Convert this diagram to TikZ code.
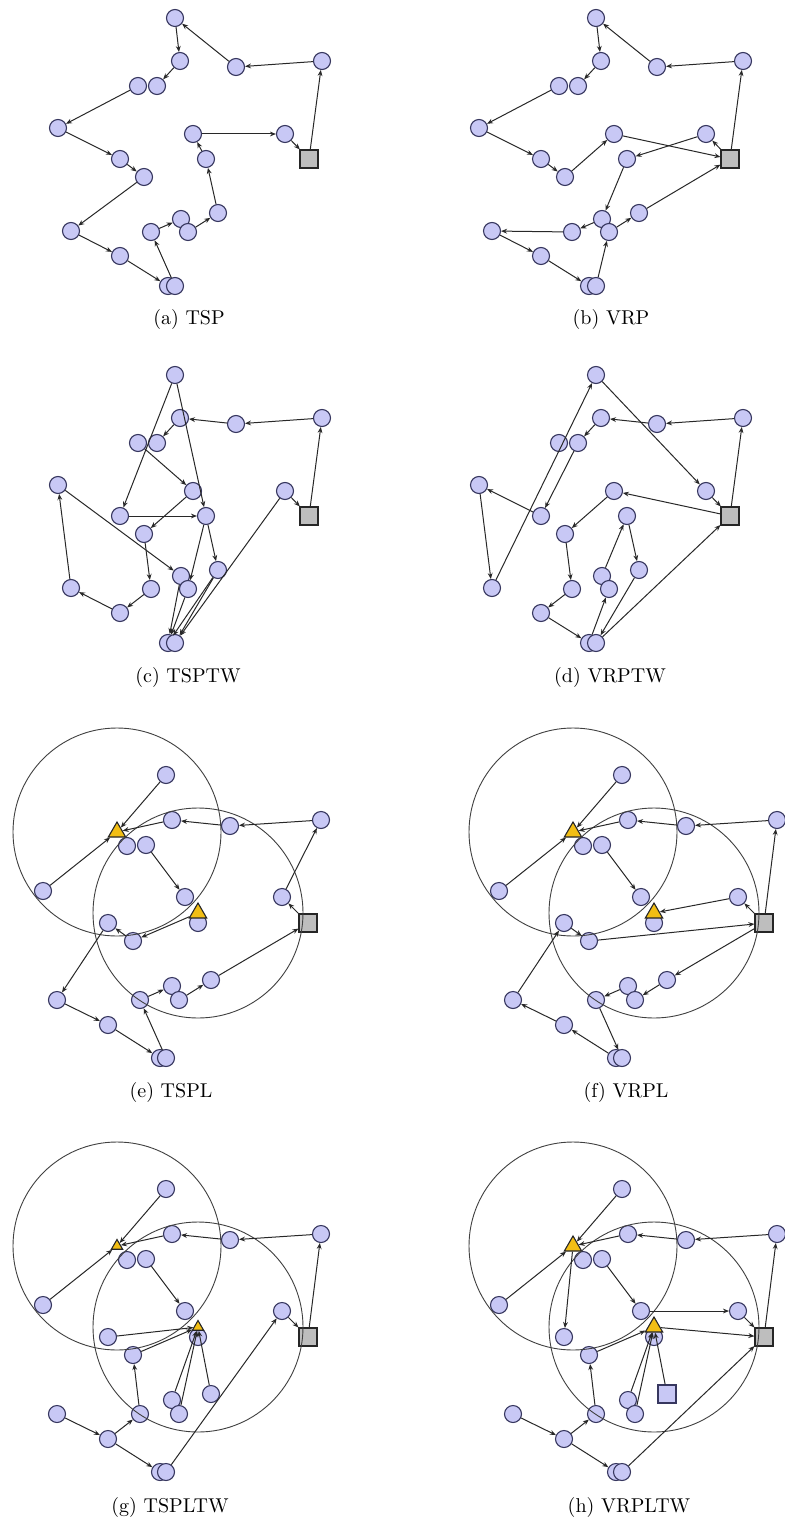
\documentclass[tikz,border=0pt]{standalone}
\usetikzlibrary{shapes.geometric,arrows.meta}
\definecolor{custfill}{RGB}{200,200,245}
\definecolor{custdraw}{RGB}{55,55,95}
\definecolor{depotfill}{RGB}{190,190,190}
\definecolor{trifill}{RGB}{242,190,20}
\definecolor{edgecol}{RGB}{40,40,40}
\tikzset{
  cust/.style={circle,minimum size=8.5pt,inner sep=0pt,fill=custfill,draw=custdraw,line width=0.55pt},
  custsq/.style={rectangle,minimum size=9pt,inner sep=0pt,fill=custfill,draw=custdraw,line width=0.55pt},
  depotbox/.style={rectangle,minimum size=9pt,inner sep=0pt,fill=depotfill,draw=black!85,line width=0.55pt},
  facility/.style={regular polygon,regular polygon sides=3,minimum size=#1,inner sep=0pt,fill=trifill,draw=black!85,line width=0.55pt},
  facility/.default=10pt,
  route/.style={draw=edgecol,line width=0.5pt,-{Stealth[length=3pt,width=2.4pt]}},
  reach/.style={draw=black!75,line width=0.45pt},
  subcap/.style={font=\fontsize{10}{12}\selectfont,inner sep=0pt},
}
% customers of the first point set (panels a-d)
\newcommand\placeA[3]{%
  \foreach \n/\xx/\yy in {1/175/18,2/180/61,3/236/67,4/322/61,5/138/86,6/157/86,7/58/128,8/193/134,9/285/134,10/206/159,11/120/159,12/144/177,13/218/213,14/181/219,15/188/232,16/151/232,17/71/231,18/120/256,19/168/286,20/175/286}
    {\node[cust] (#1\n) at ({\xx+#2},{\yy+#3}) {};}
  \node[depotbox] (#1D) at ({309+#2},{159+#3}) {};
}
% customers, lockers and ranges of the second point set (panels e-h)
\newcommand\placeB[5]{%
  \foreach \n/\xx/\yy in {1/166/775,2/172/820,3/230/826,4/321/820,5/127/846,6/146/845,7/43/891,8/185/897,9/198/923,10/282/897,11/108/923,12/133/941,14/172/986,15/179/1000,16/140/1000,17/57/1000,18/108/1025,19/160/1058,20/166/1058}
    {\node[cust] (#1\n) at ({\xx+#2},{\yy+#3}) {};}
  \node[#4] (#113) at ({211+#2},{980+#3}) {};
  \node[depotbox] (#1D) at ({308+#2},{923+#3}) {};
  \node[facility=#5] (#1T1) at ({117+#2},{832+#3}) {};
  \node[facility=#5] (#1T2) at ({198+#2},{913+#3}) {};
  \draw[reach] (#1T1.center) circle[radius=52pt];
  \draw[reach] (#1T2.center) circle[radius=52.5pt];
}
\newcommand\routes[2]{\foreach \s/\t in {#2} {\draw[route] (#1\s) -- (#1\t);}}
\begin{document}
\begin{tikzpicture}[x=0.5pt,y=-0.5pt]
\fill[white] (0,0) rectangle (785,1524);
\useasboundingbox (0,0) rectangle (785,1524);

% (a) TSP
\placeA{a}{0}{0}
\routes{a}{D/4,4/3,3/1,1/2,2/6,5/7,7/11,11/12,12/17,17/18,18/19,20/16,16/14,15/13,13/10,10/8,8/9,9/D}
% (b) VRP
\placeA{b}{421}{0}
\routes{b}{D/4,4/3,3/1,1/2,2/6,5/7,7/11,11/12,12/8,8/D,D/9,9/10,10/14,14/16,16/17,17/18,18/19,20/15,15/13,13/D}
% (c) TSPTW
\placeA{c}{0}{357}
\routes{c}{D/4,4/3,3/2,2/6,5/8,8/12,12/16,16/18,18/17,17/7,7/14,14/19,10/15,15/19,10/13,13/19,13/20,1/10,1/11,11/10,9/20,9/D}
% (d) VRPTW
\placeA{d}{421}{357}
\routes{d}{D/4,4/3,3/2,2/6,6/11,11/7,7/17,17/1,1/9,9/D,D/8,8/12,12/16,16/18,18/19,19/15,14/10,10/13,13/20,20/D}
% (e) TSPL
\placeB{e}{0}{0}{cust}{10pt}
\routes{e}{1/T1,7/T1,2/T1,3/2,4/3,10/4,D/10,6/8,T2/12,12/11,11/17,17/18,18/19,20/16,16/14,15/13,13/D}
% (f) VRPL
\placeB{f}{456}{0}{cust}{10pt}
\routes{f}{1/T1,7/T1,2/T1,3/2,4/3,D/4,D/10,10/T2,6/8,12/D,11/12,17/11,18/17,19/18,16/20,14/16,13/15,D/13}
% (g) TSPLTW
\placeB{g}{0}{414}{cust}{6.5pt}
\routes{g}{1/T1,7/T1,2/T1,3/2,4/3,D/4,6/8,11/T2,12/T2,14/T2,15/T2,13/T2,16/12,18/16,17/18,18/19,20/10,10/D}
% (h) VRPLTW
\placeB{h}{456}{414}{custsq}{10pt}
\routes{h}{1/T1,7/T1,2/T1,3/2,4/3,D/4,T1/11,6/8,8/10,10/D,T2/D,12/T2,14/T2,15/T2,13/T2,16/12,18/16,17/18,18/19,20/D}

% captions
\node[subcap] (capa) at (189,320) {(a) TSP};
\node[subcap] (capb) at (611,320) {(b) VRP};
\node[subcap] (capc) at (188,677) {(c) TSPTW};
\node[subcap] (capd) at (610,677) {(d) VRPTW};
\node[subcap] (cape) at (171,1092) {(e) TSPL};
\node[subcap] (capf) at (626,1092) {(f) VRPL};
\node[subcap] (capg) at (170,1507) {(g) TSPLTW};
\node[subcap] (caph) at (629,1507) {(h) VRPLTW};
\end{tikzpicture}
\end{document}
